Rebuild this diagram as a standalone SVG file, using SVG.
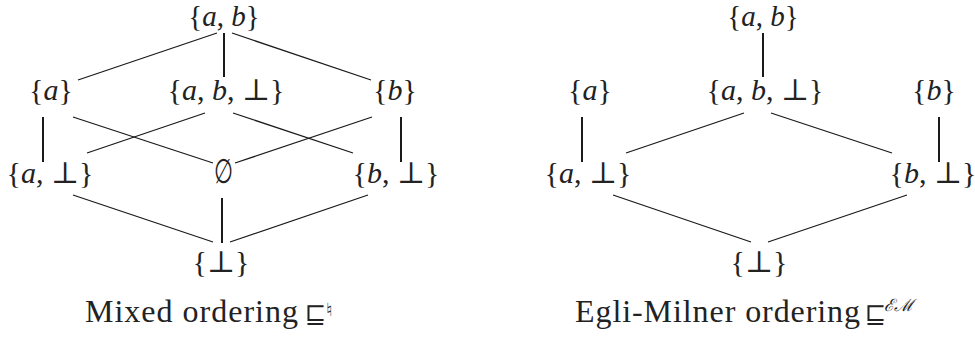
<svg xmlns="http://www.w3.org/2000/svg" width="975" height="338" viewBox="0 0 975 338">
<style>
.n{font-family:"Liberation Serif","DejaVu Serif",serif;font-size:30px;fill:#222;text-anchor:middle}
.t{font-size:29px}
.i{font-style:italic}
.c{font-family:"Liberation Serif","DejaVu Serif",serif;font-size:32px;fill:#222}
.s{font-family:"DejaVu Serif","Liberation Serif",serif;fill:#222}
.e{stroke:#1a1a1a;stroke-width:1.3;fill:none}
.v{stroke:#1a1a1a;stroke-width:2;fill:none}
</style>
<rect width="975" height="338" fill="#fff"/>
<g id="connectors">
<line class="e" x1="217" y1="33" x2="78" y2="80"/>
<line class="v" x1="224" y1="33" x2="224" y2="77"/>
<line class="e" x1="232" y1="33" x2="371" y2="80"/>
<line class="v" x1="43" y1="117" x2="43" y2="162"/>
<line class="e" x1="73" y1="117" x2="213" y2="163"/>
<line class="e" x1="205" y1="113" x2="87" y2="153"/>
<line class="e" x1="233" y1="113" x2="353" y2="153"/>
<line class="e" x1="372" y1="117" x2="235" y2="163"/>
<line class="v" x1="401" y1="117" x2="401" y2="162"/>
<line class="e" x1="73" y1="195" x2="213" y2="242"/>
<line class="v" x1="222" y1="198" x2="222" y2="243"/>
<line class="e" x1="368" y1="195" x2="230" y2="242"/>
<line class="v" x1="763" y1="33" x2="763" y2="77"/>
<line class="v" x1="582" y1="117" x2="582" y2="162"/>
<line class="e" x1="744" y1="113" x2="626" y2="153"/>
<line class="e" x1="771" y1="113" x2="892" y2="153"/>
<line class="v" x1="939" y1="117" x2="939" y2="162"/>
<line class="e" x1="613" y1="195" x2="751" y2="242"/>
<line class="e" x1="907" y1="195" x2="768" y2="242"/>
</g>
<g id="L-ab"><text class="n t" x="224" y="26">{<tspan class="i">a</tspan>, <tspan class="i">b</tspan>}</text></g>
<g id="L-a"><text class="n" x="51" y="100">{<tspan class="i">a</tspan>}</text></g>
<g id="L-abbot"><text class="n" x="226" y="100">{<tspan class="i">a</tspan>, <tspan class="i">b</tspan>, ⊥}</text></g>
<g id="L-b"><text class="n" x="395" y="100">{<tspan class="i">b</tspan>}</text></g>
<g id="L-abot"><text class="n" x="50" y="183">{<tspan class="i">a</tspan>, ⊥}</text></g>
<g id="L-empty"><text class="n" transform="translate(223 183) scale(0.72 1.12)" x="0" y="0">∅</text></g>
<g id="L-bbot"><text class="n" x="396" y="183">{<tspan class="i">b</tspan>, ⊥}</text></g>
<g id="L-bot"><text class="n" x="221" y="272">{⊥}</text></g>
<g id="R-ab"><text class="n t" x="763" y="26">{<tspan class="i">a</tspan>, <tspan class="i">b</tspan>}</text></g>
<g id="R-a"><text class="n" x="590" y="100">{<tspan class="i">a</tspan>}</text></g>
<g id="R-abbot"><text class="n" x="765" y="100">{<tspan class="i">a</tspan>, <tspan class="i">b</tspan>, ⊥}</text></g>
<g id="R-b"><text class="n" x="934" y="100">{<tspan class="i">b</tspan>}</text></g>
<g id="R-abot"><text class="n" x="588" y="183">{<tspan class="i">a</tspan>, ⊥}</text></g>
<g id="R-bbot"><text class="n" x="933" y="183">{<tspan class="i">b</tspan>, ⊥}</text></g>
<g id="R-bot"><text class="n" x="759" y="272">{⊥}</text></g>
<g id="caption-left">
<text class="c" x="85" y="322" textLength="213" lengthAdjust="spacing">Mixed ordering</text>
<text class="s" x="305" y="323" font-size="25">⊑</text>
<text class="s" x="326" y="316" font-size="18">♮</text>
</g>
<g id="caption-right">
<text class="c" x="575" y="322" textLength="285" lengthAdjust="spacing">Egli-Milner ordering</text>
<text class="s" x="865" y="323" font-size="25">⊑</text>
<text class="s" x="884" y="311" font-size="17" font-style="italic">ℰℳ</text>
</g>
</svg>
